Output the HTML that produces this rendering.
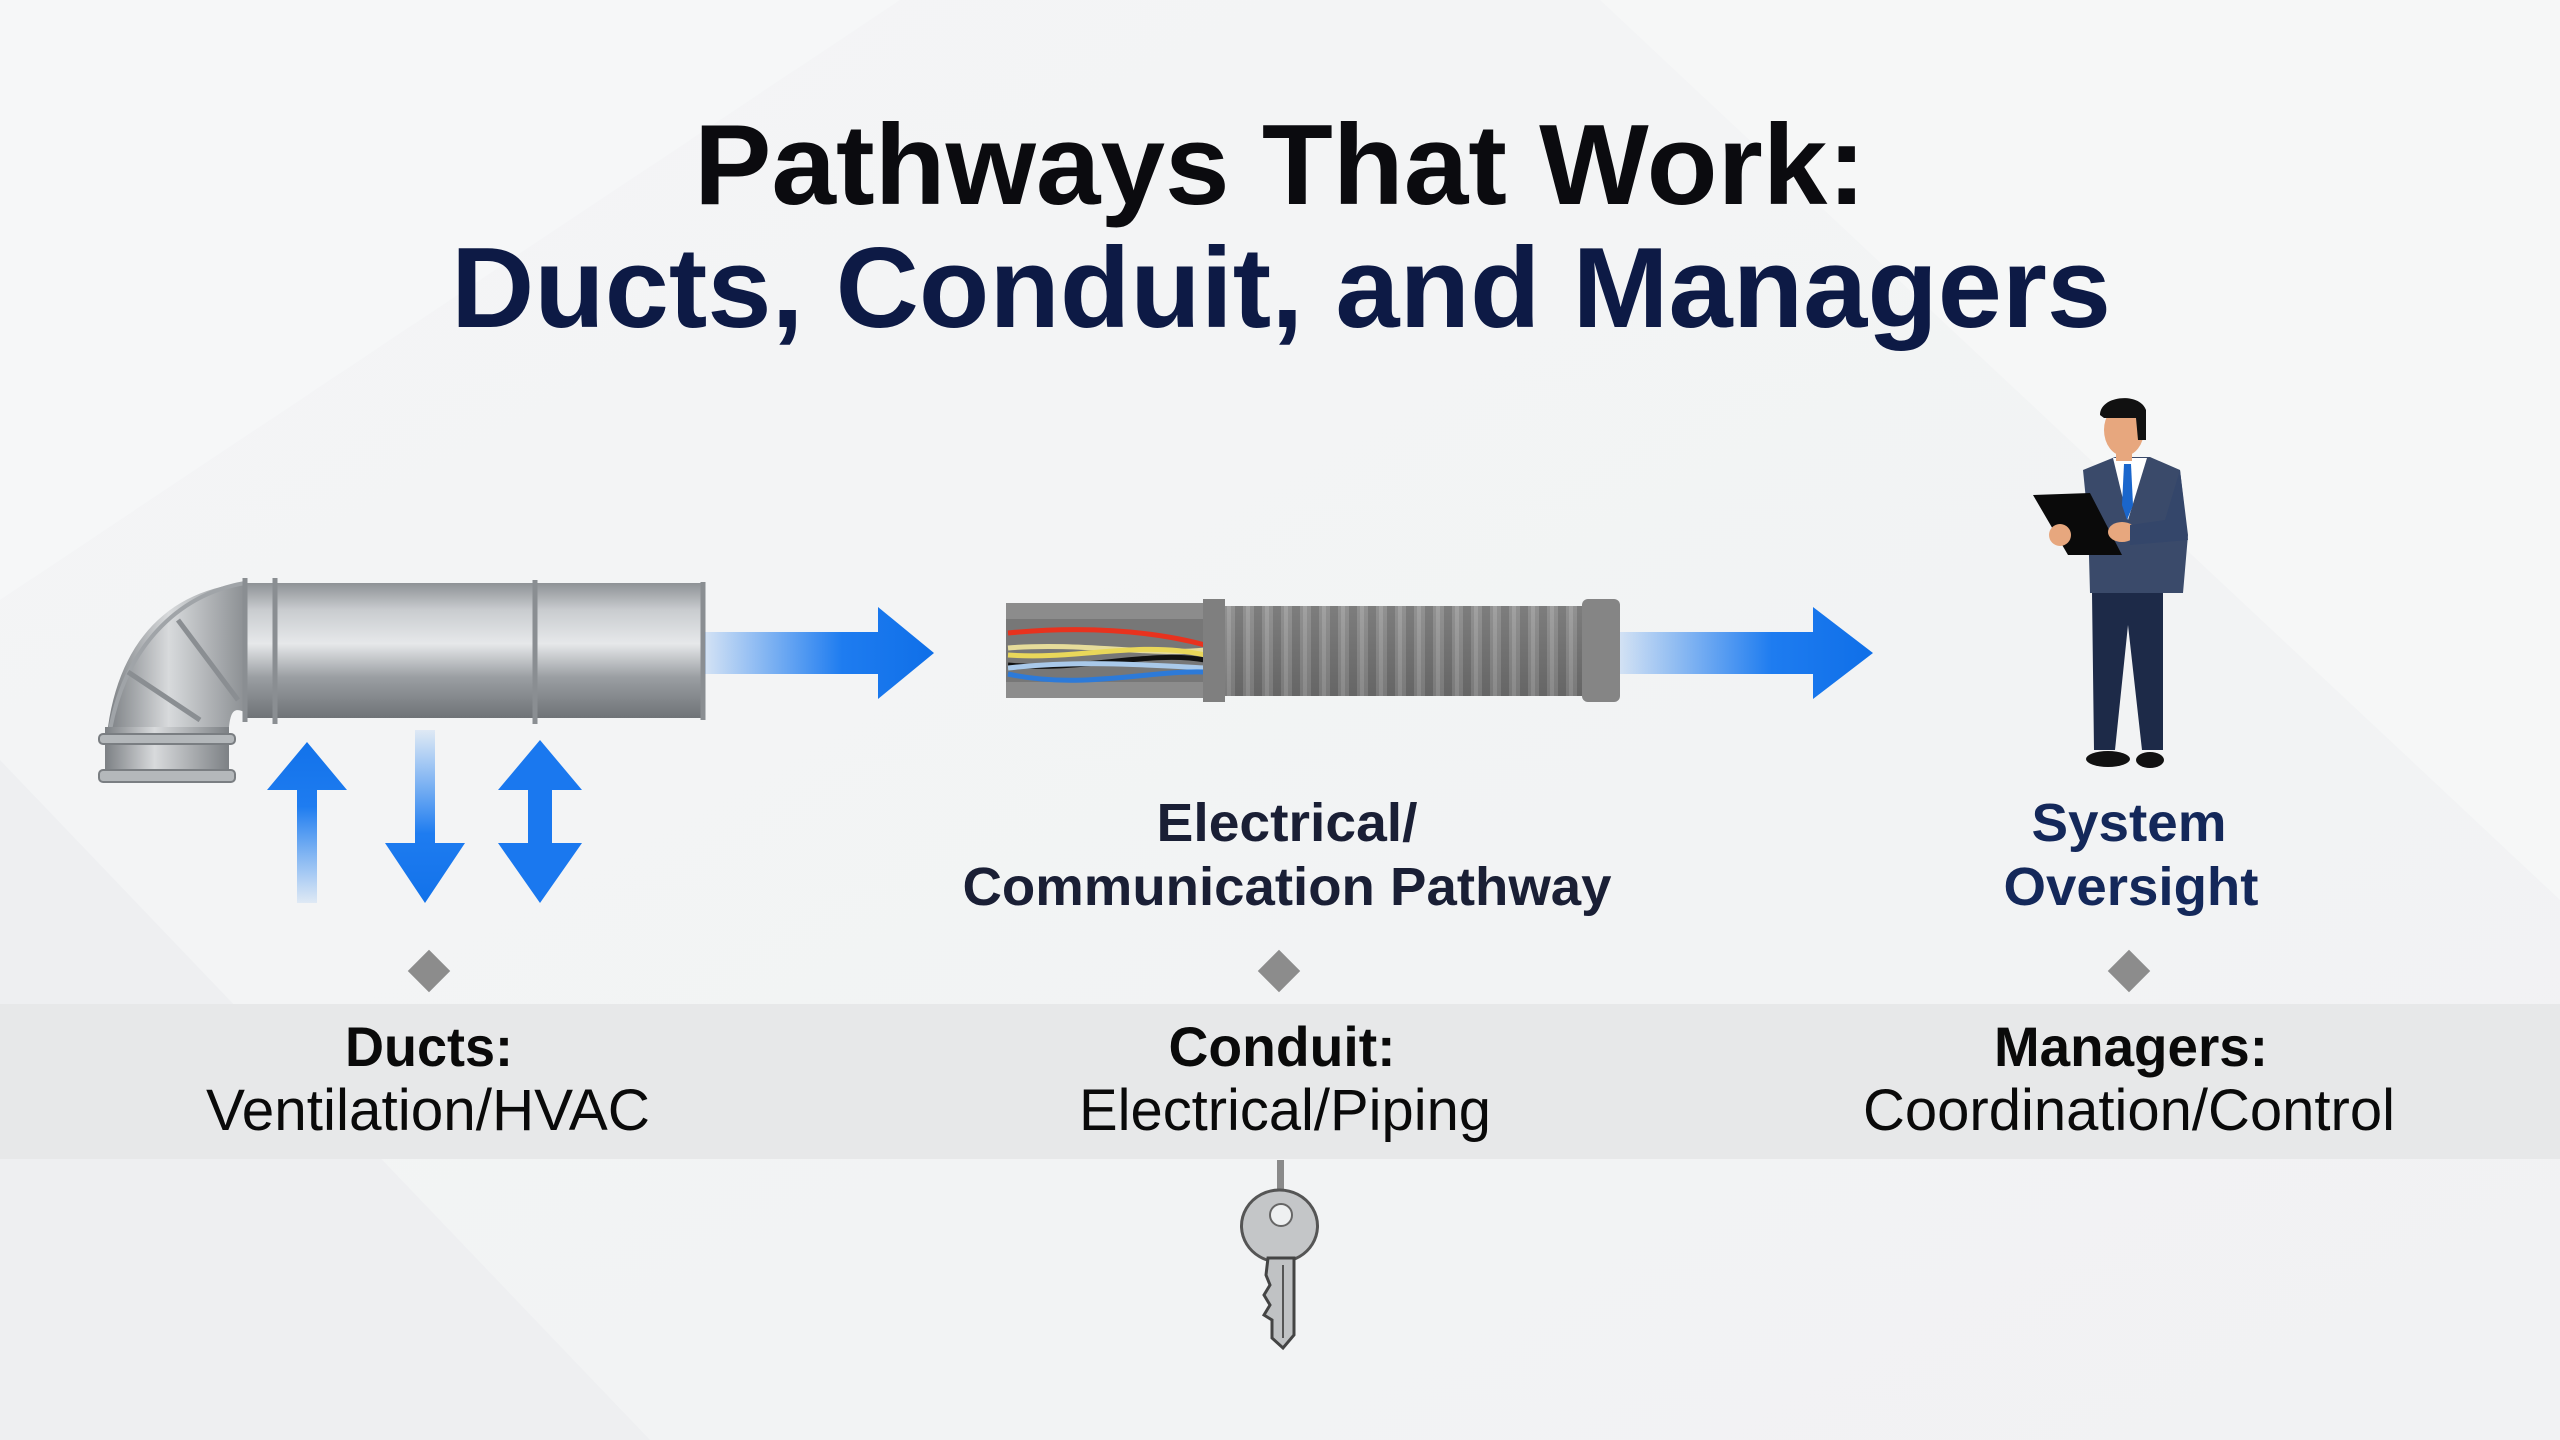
<!DOCTYPE html>
<html><head><meta charset="utf-8"><style>
html,body{margin:0;padding:0;width:2560px;height:1440px;overflow:hidden;background:#f3f4f5}
svg{display:block}
text{font-family:"Liberation Sans",sans-serif}
</style></head><body>
<svg width="2560" height="1440" viewBox="0 0 2560 1440" xmlns="http://www.w3.org/2000/svg">
<defs>
<linearGradient id="bg" x1="0" y1="0" x2="1" y2="1">
<stop offset="0" stop-color="#f4f5f6"/><stop offset="1" stop-color="#f1f2f3"/></linearGradient>
<linearGradient id="pipe" x1="0" y1="0" x2="0" y2="1">
<stop offset="0" stop-color="#8e9296"/><stop offset="0.2" stop-color="#c9cccf"/><stop offset="0.45" stop-color="#e6e8ea"/><stop offset="0.7" stop-color="#9a9ea2"/><stop offset="1" stop-color="#6f7377"/></linearGradient>
<linearGradient id="pipev" x1="0" y1="0" x2="1" y2="0">
<stop offset="0" stop-color="#7c8084"/><stop offset="0.4" stop-color="#d8dadc"/><stop offset="1" stop-color="#7d8185"/></linearGradient>
<linearGradient id="arrH" x1="0" y1="0" x2="1" y2="0">
<stop offset="0" stop-color="#1e7cf0" stop-opacity="0.15"/><stop offset="0.6" stop-color="#1e7cf0"/><stop offset="1" stop-color="#0f6fe8"/></linearGradient>
<linearGradient id="arrUp" x1="0" y1="1" x2="0" y2="0">
<stop offset="0" stop-color="#2a86f2" stop-opacity="0.1"/><stop offset="0.6" stop-color="#1e7cf0"/><stop offset="1" stop-color="#1272ea"/></linearGradient>
<linearGradient id="arrDn" x1="0" y1="0" x2="0" y2="1">
<stop offset="0" stop-color="#2a86f2" stop-opacity="0.1"/><stop offset="0.6" stop-color="#1e7cf0"/><stop offset="1" stop-color="#1272ea"/></linearGradient>
<linearGradient id="cond" x1="0" y1="0" x2="0" y2="1">
<stop offset="0" stop-color="#9a9a9a"/><stop offset="0.4" stop-color="#7d7d7d"/><stop offset="1" stop-color="#555"/></linearGradient>
<pattern id="rib" x="1240" y="0" width="19" height="200" patternUnits="userSpaceOnUse">
<rect width="19" height="200" fill="#6e6e6e"/><rect x="3" width="11" height="200" fill="#8d8d8d"/><rect x="6" width="4" height="200" fill="#a5a5a5"/></pattern>
</defs>
<rect width="2560" height="1440" fill="url(#bg)"/>
<polygon points="0,760 0,1440 650,1440" fill="#eceef0" opacity="0.8"/>
<polygon points="1600,0 2560,0 2560,900" fill="#f6f7f8" opacity="0.8"/>
<polygon points="0,0 900,0 0,600" fill="#f7f8f9" opacity="0.7"/>
<!-- band -->
<rect x="0" y="1004" width="2560" height="155" fill="#e7e8e9"/>

<!-- Title -->
<text x="1280" y="204" text-anchor="middle" font-size="114" font-weight="bold" fill="#0b0b0f" textLength="1172" lengthAdjust="spacingAndGlyphs">Pathways That Work:</text>
<text x="1281" y="327" text-anchor="middle" font-size="114" font-weight="bold" fill="#0d1a45" textLength="1660" lengthAdjust="spacingAndGlyphs">Ducts, Conduit, and Managers</text>

<!-- Duct -->
<path d="M245,583 C170,590 120,640 108,727 L229,727 C232,700 240,712 260,718 Z" fill="url(#pipev)"/>
<path d="M245,583 C175,595 125,650 110,730" fill="none" stroke="#a0a4a8" stroke-width="4"/>
<rect x="245" y="583" width="460" height="135" fill="url(#pipe)"/>
<g stroke="#8a8e92" stroke-width="5" fill="none">
<line x1="245" y1="578" x2="245" y2="722"/><line x1="275" y1="578" x2="275" y2="724"/>
<line x1="535" y1="580" x2="535" y2="724"/><line x1="703" y1="582" x2="703" y2="720"/>
<path d="M178,620 L238,700"/><path d="M128,672 L200,720"/>
</g>
<rect x="105" y="727" width="124" height="55" fill="url(#pipev)"/>
<rect x="99" y="734" width="136" height="10" rx="4" fill="#b4b8bb" stroke="#7a7e82" stroke-width="2"/>
<rect x="99" y="770" width="136" height="12" rx="4" fill="#b4b8bb" stroke="#7a7e82" stroke-width="2"/>

<!-- Arrow 1 -->
<polygon points="705,632 878,632 878,607 934,653 878,699 878,674 705,674" fill="url(#arrH)"/>
<!-- vertical arrows -->
<polygon points="297,903 297,790 267,790 307,742 347,790 317,790 317,903" fill="url(#arrUp)"/>
<polygon points="415,730 435,730 435,843 465,843 425,903 385,843 415,843" fill="url(#arrDn)"/>
<polygon points="540,740 582,790 552,790 552,843 582,843 540,903 498,843 528,843 528,790 498,790" fill="#1a78ef"/>

<!-- Cable -->
<rect x="1006" y="603" width="200" height="16" fill="#8c8c8c"/>
<rect x="1006" y="682" width="200" height="16" fill="#8c8c8c"/>
<rect x="1006" y="619" width="200" height="63" fill="#777"/>
<g fill="none" stroke-width="5">
<path d="M1008,633 C1080,626 1150,630 1205,645" stroke="#e8321e"/>
<path d="M1008,648 C1080,642 1150,656 1205,650" stroke="#e6dc9a"/>
<path d="M1008,655 C1080,660 1140,640 1205,655" stroke="#e9d75a"/>
<path d="M1008,665 C1080,672 1150,650 1205,660" stroke="#111"/>
<path d="M1008,668 C1080,660 1150,665 1205,668" stroke="#a9c9ea"/>
<path d="M1008,674 C1080,690 1150,670 1205,672" stroke="#2d7ad8"/>
</g>
<rect x="1203" y="599" width="22" height="103" fill="#7f7f7f"/>
<rect x="1225" y="606" width="360" height="90" fill="url(#rib)"/>
<rect x="1225" y="606" width="360" height="90" fill="url(#cond)" opacity="0.35"/>
<rect x="1582" y="599" width="38" height="103" rx="6" fill="#858585"/>
<!-- Arrow 2 -->
<polygon points="1620,632 1813,632 1813,607 1873,653 1813,699 1813,674 1620,674" fill="url(#arrH)"/>

<!-- Person -->
<path d="M2083,470 L2115,457 L2150,457 L2180,470 L2188,535 L2183,593 L2090,593 L2088,520 Z" fill="#3a4a6a"/>
<polygon points="2113,458 2147,458 2128,520" fill="#fff"/>
<polygon points="2124,464 2131,464 2133,505 2127,520 2122,505" fill="#1a66cc"/>
<polygon points="2092,593 2163,593 2163,750 2142,750 2128,625 2115,750 2094,750" fill="#1d2a48"/>
<ellipse cx="2108" cy="759" rx="22" ry="8" fill="#111"/><ellipse cx="2150" cy="760" rx="14" ry="8" fill="#111"/>
<ellipse cx="2124" cy="430" rx="20" ry="26" fill="#e7a77e"/>
<rect x="2116" y="445" width="16" height="16" fill="#e7a77e"/>
<path d="M2100,415 C2100,395 2140,392 2146,410 L2146,440 L2138,440 L2136,418 L2104,418 Z" fill="#111"/>
<polygon points="2033,495 2090,493 2122,555 2068,555" fill="#0a0a0a"/>
<ellipse cx="2060" cy="535" rx="11" ry="11" fill="#e7a77e"/><ellipse cx="2122" cy="532" rx="14" ry="10" fill="#e7a77e"/>
<path d="M2180,470 L2188,540 L2130,545 L2130,525 L2165,520 Z" fill="#34466a"/>

<!-- Labels above band -->
<g font-weight="bold" font-size="54" text-anchor="middle">
<text x="1287" y="841" fill="#1a1f35" textLength="261" lengthAdjust="spacingAndGlyphs">Electrical/</text>
<text x="1287" y="905" fill="#1a1f35" textLength="649" lengthAdjust="spacingAndGlyphs">Communication Pathway</text>
<text x="2129" y="841" fill="#14285a" textLength="195" lengthAdjust="spacingAndGlyphs">System</text>
<text x="2131" y="905" fill="#14285a" textLength="255" lengthAdjust="spacingAndGlyphs">Oversight</text>
</g>
<!-- diamonds -->
<g fill="#8c8c8c">
<rect x="414" y="956" width="30" height="30" transform="rotate(45 429 971)"/>
<rect x="1264" y="956" width="30" height="30" transform="rotate(45 1279 971)"/>
<rect x="2114" y="956" width="30" height="30" transform="rotate(45 2129 971)"/>
</g>
<!-- band labels -->
<g text-anchor="middle" fill="#0a0a0a">
<text x="429" y="1066" font-size="56" font-weight="bold" textLength="168" lengthAdjust="spacingAndGlyphs">Ducts:</text>
<text x="428" y="1130" font-size="58" textLength="444" lengthAdjust="spacingAndGlyphs">Ventilation/HVAC</text>
<text x="1282" y="1066" font-size="56" font-weight="bold" textLength="227" lengthAdjust="spacingAndGlyphs">Conduit:</text>
<text x="1285" y="1130" font-size="58" textLength="412" lengthAdjust="spacingAndGlyphs">Electrical/Piping</text>
<text x="2131" y="1066" font-size="56" font-weight="bold" textLength="274" lengthAdjust="spacingAndGlyphs">Managers:</text>
<text x="2129" y="1130" font-size="58" textLength="532" lengthAdjust="spacingAndGlyphs">Coordination/Control</text>
</g>

<!-- Key -->
<rect x="1277" y="1160" width="7" height="55" fill="#8a8a8a"/>
<path d="M1280,1190 a38,36 0 1 1 -1,0 Z" fill="#c4c6c8" stroke="#555" stroke-width="3"/>
<circle cx="1281" cy="1215" r="11" fill="#eef0f1" stroke="#666" stroke-width="2"/>
<path d="M1268,1258 L1294,1258 L1294,1335 L1283,1348 L1272,1338 L1272,1320 L1264,1315 L1270,1305 L1264,1295 L1270,1285 L1266,1275 Z" fill="#c0c2c4" stroke="#444" stroke-width="3"/>
<line x1="1283" y1="1265" x2="1283" y2="1338" stroke="#555" stroke-width="2"/>
</svg>
</body></html>
